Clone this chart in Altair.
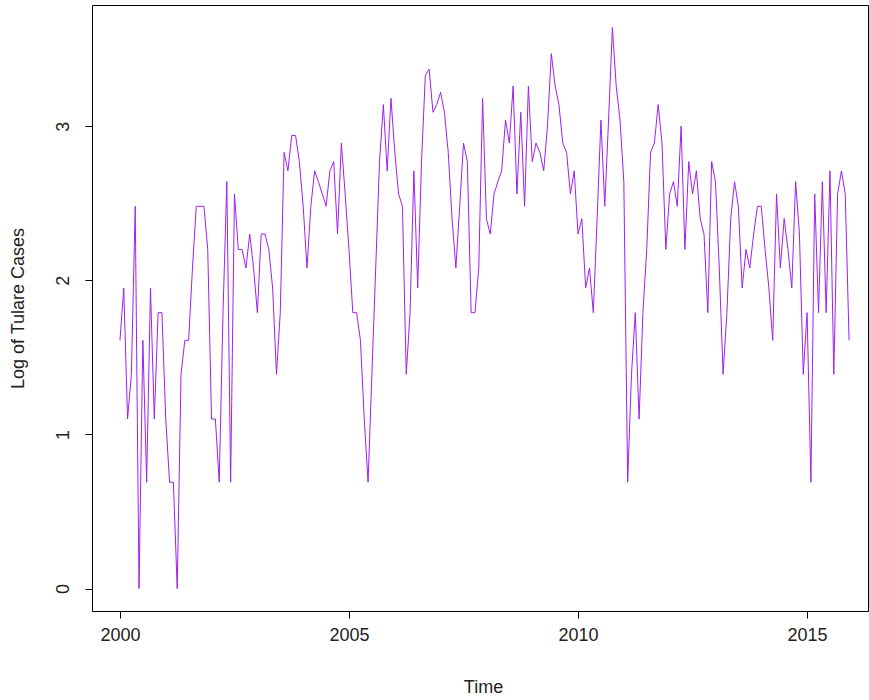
import altair as alt
import pandas as pd

# Monthly series, Jan 2000 .. Dec 2015 (natural log of monthly case counts)
start_year = 2000
log_cases = [
    1.61, 1.95, 1.10, 1.39, 2.48, 0.00, 1.61, 0.69, 1.95, 1.10, 1.79, 1.79,  # 2000
    1.10, 0.69, 0.69, 0.00, 1.39, 1.61, 1.61, 2.08, 2.48, 2.48, 2.48, 2.20,  # 2001
    1.10, 1.10, 0.69, 1.79, 2.64, 0.69, 2.56, 2.20, 2.20, 2.08, 2.30, 2.08,  # 2002
    1.79, 2.30, 2.30, 2.20, 1.95, 1.39, 1.79, 2.83, 2.71, 2.94, 2.94, 2.77,  # 2003
    2.48, 2.08, 2.48, 2.71, 2.64, 2.56, 2.48, 2.71, 2.77, 2.30, 2.89, 2.56,  # 2004
    2.20, 1.79, 1.79, 1.61, 1.10, 0.69, 1.39, 2.08, 2.77, 3.14, 2.71, 3.18,  # 2005
    2.83, 2.56, 2.48, 1.39, 1.79, 2.71, 1.95, 2.77, 3.33, 3.37, 3.09, 3.14,  # 2006
    3.22, 3.09, 2.83, 2.40, 2.08, 2.48, 2.89, 2.77, 1.79, 1.79, 2.08, 3.18,  # 2007
    2.40, 2.30, 2.56, 2.64, 2.71, 3.04, 2.89, 3.26, 2.56, 3.09, 2.48, 3.26,  # 2008
    2.77, 2.89, 2.83, 2.71, 3.00, 3.47, 3.26, 3.14, 2.89, 2.83, 2.56, 2.71,  # 2009
    2.30, 2.40, 1.95, 2.08, 1.79, 2.40, 3.04, 2.48, 3.04, 3.64, 3.26, 3.04,  # 2010
    2.64, 0.69, 1.39, 1.79, 1.10, 1.79, 2.20, 2.83, 2.89, 3.14, 2.89, 2.20,  # 2011
    2.56, 2.64, 2.48, 3.00, 2.20, 2.77, 2.56, 2.71, 2.40, 2.30, 1.79, 2.77,  # 2012
    2.64, 2.08, 1.39, 1.79, 2.40, 2.64, 2.48, 1.95, 2.20, 2.08, 2.30, 2.48,  # 2013
    2.48, 2.20, 1.95, 1.61, 2.56, 2.08, 2.40, 2.20, 1.95, 2.64, 2.30, 1.39,  # 2014
    1.79, 0.69, 2.56, 1.79, 2.64, 1.79, 2.71, 1.39, 2.56, 2.71, 2.56, 1.61,  # 2015
]
x_ticks = [2000, 2005, 2010, 2015]
y_ticks = [0, 1, 2, 3]

df = pd.DataFrame({
    "time": [start_year + i / 12 for i in range(len(log_cases))],
    "log_cases": log_cases,
})

FONT = "Liberation Sans"
TEXT = "#222222"
SIZE = 18

x_axis = alt.Axis(
    values=x_ticks, format="d", title="Time", grid=False, domain=False,
    tickSize=7, tickColor="black", labelPadding=8, labelFlush=False,
    labelFont=FONT, labelFontSize=SIZE, labelColor=TEXT,
    titleFont=FONT, titleFontSize=SIZE, titleFontWeight="normal", titleColor=TEXT,
    titleX=391, titleY=81, titleAlign="center", titleBaseline="alphabetic",
)
y_axis = alt.Axis(
    values=y_ticks, format="d", title="Log of Tulare Cases", grid=False, domain=False,
    tickSize=7, tickColor="black", labelPadding=17, labelFlush=False,
    labelAngle=270, labelAlign="center", labelBaseline="alphabetic",
    labelFont=FONT, labelFontSize=SIZE, labelColor=TEXT,
    titleFont=FONT, titleFontSize=SIZE, titleFontWeight="normal", titleColor=TEXT,
    titleAngle=270, titleX=-74, titleY=303, titleAlign="center", titleBaseline="middle",
)

chart = (
    alt.Chart(df)
    .mark_line(color="#A020F0", strokeWidth=1)
    .encode(
        x=alt.X("time:Q", scale=alt.Scale(domain=[1999.39, 2016.33], nice=False, zero=False), axis=x_axis),
        y=alt.Y("log_cases:Q", scale=alt.Scale(domain=[-0.1456, 3.786], nice=False, zero=False), axis=y_axis),
    )
    .properties(
        width=776, height=606,
        autosize=alt.AutoSizeParams(type="none"),
        padding={"left": 92, "top": 5, "right": 1, "bottom": 89},
        background="white",
    )
    .configure_view(stroke="black", strokeWidth=1)
)

chart.save("out.html", embed_options={"renderer": "svg", "actions": False})
